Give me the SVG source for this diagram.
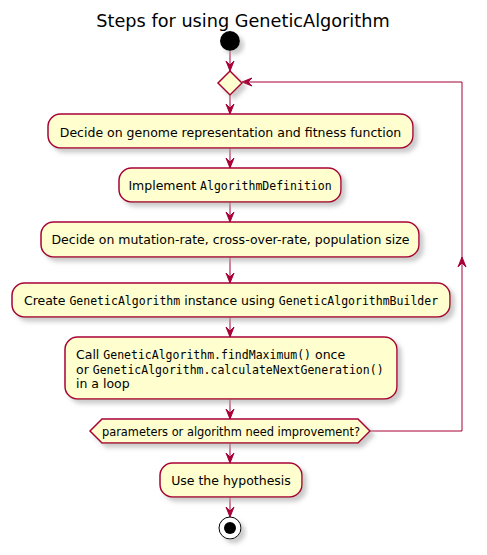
<svg xmlns="http://www.w3.org/2000/svg" width="487" height="555" viewBox="0 0 487 555">
<style>
.n{fill:#FEFECE;stroke:#A80036;stroke-width:1.5;filter:url(#sh)}
.t{font-family:"DejaVu Sans",sans-serif;font-size:12.5px;fill:#000}
.m{font-family:"DejaVu Sans Mono",monospace;font-size:11.5px}
.c{fill:none;stroke:#A80036;stroke-width:1}
.ah{fill:#A80036;stroke:#A80036;stroke-width:1}
</style>
<defs>
<filter id="sh" x="-20%" y="-20%" width="150%" height="160%">
<feGaussianBlur in="SourceAlpha" stdDeviation="2" result="b"/>
<feOffset dx="4" dy="4" in="b" result="o"/>
<feColorMatrix in="o" type="matrix" values="0 0 0 0 0.4  0 0 0 0 0.4  0 0 0 0 0.4  0 0 0 0.6 0" result="s"/>
<feMerge><feMergeNode in="s"/><feMergeNode in="SourceGraphic"/></feMerge>
</filter>
</defs>
<rect width="487" height="555" fill="#fff"/>
<text x="243" y="27" text-anchor="middle" style="font-family:'DejaVu Sans',sans-serif;font-size:17.7px">Steps for using GeneticAlgorithm</text>

<g id="connectors">
<path class="c" d="M230,51 V71"/>
<polygon class="ah" points="230,71 226,61 230,65 234,61"/>
<path class="c" d="M230,95 V114"/>
<polygon class="ah" points="230,114 226,104 230,108 234,104"/>
<path class="c" d="M230,148 V168"/>
<polygon class="ah" points="230,168 226,158 230,162 234,158"/>
<path class="c" d="M230,202 V222"/>
<polygon class="ah" points="230,222 226,212 230,216 234,212"/>
<path class="c" d="M230,257 V283"/>
<polygon class="ah" points="230,283 226,273 230,277 234,273"/>
<path class="c" d="M230,317 V337"/>
<polygon class="ah" points="230,337 226,327 230,331 234,327"/>
<path class="c" d="M230,399 V419"/>
<polygon class="ah" points="230,419 226,409 230,413 234,409"/>
<path class="c" d="M230,443 V463"/>
<polygon class="ah" points="230,463 226,453 230,457 234,453"/>
<path class="c" d="M230,497 V517"/>
<polygon class="ah" points="230,517 226,507 230,511 234,507"/>
<path class="c" d="M370,431 H462 V82 H242"/>
<polygon class="ah" points="462,257 458,267 462,263 466,267"/>
<polygon class="ah" points="242,82 252,78 248,82 252,86"/>
</g>

<g id="start"><circle cx="230" cy="41" r="10" fill="#000" filter="url(#sh)"/></g>

<g id="merge"><polygon class="n" points="230,71 242,83 230,95 218,83"/></g>

<g id="step1">
<rect class="n" x="48" y="114" width="365" height="34" rx="12.5"/>
<text class="t" x="230.5" y="136.5" text-anchor="middle">Decide on genome representation and fitness function</text>
</g>

<g id="step2">
<rect class="n" x="119" y="168" width="222" height="34" rx="12.5"/>
<text class="t" x="230" y="190" text-anchor="middle">Implement <tspan class="m">AlgorithmDefinition</tspan></text>
</g>

<g id="step3">
<rect class="n" x="41" y="222" width="378" height="35" rx="12.5"/>
<text class="t" x="230.5" y="244" text-anchor="middle">Decide on mutation-rate, cross-over-rate, population size</text>
</g>

<g id="step4">
<rect class="n" x="12" y="283" width="438" height="34" rx="12.5"/>
<text class="t" x="231" y="305" text-anchor="middle">Create <tspan class="m">GeneticAlgorithm</tspan> instance using <tspan class="m">GeneticAlgorithmBuilder</tspan></text>
</g>

<g id="step5">
<rect class="n" x="65" y="337" width="332" height="62" rx="12.5"/>
<text class="t" x="76" y="359">Call <tspan class="m">GeneticAlgorithm.findMaximum()</tspan> once</text>
<text class="t" x="76" y="373.5">or <tspan class="m">GeneticAlgorithm.calculateNextGeneration()</tspan></text>
<text class="t" x="76" y="388">in a loop</text>
</g>

<g id="decision">
<polygon class="n" points="90,431 102,419 358,419 370,431 358,443 102,443"/>
<text class="t" x="231" y="435.5" text-anchor="middle" style="font-size:11.4px">parameters or algorithm need improvement?</text>
</g>

<g id="step6">
<rect class="n" x="160" y="463" width="142" height="34" rx="12.5"/>
<text class="t" x="231" y="485" text-anchor="middle">Use the hypothesis</text>
</g>

<g id="end">
<circle cx="230" cy="528" r="11" fill="#fff" stroke="#000" stroke-width="1" filter="url(#sh)"/>
<circle cx="230" cy="528" r="6" fill="#000"/>
</g>
</svg>
